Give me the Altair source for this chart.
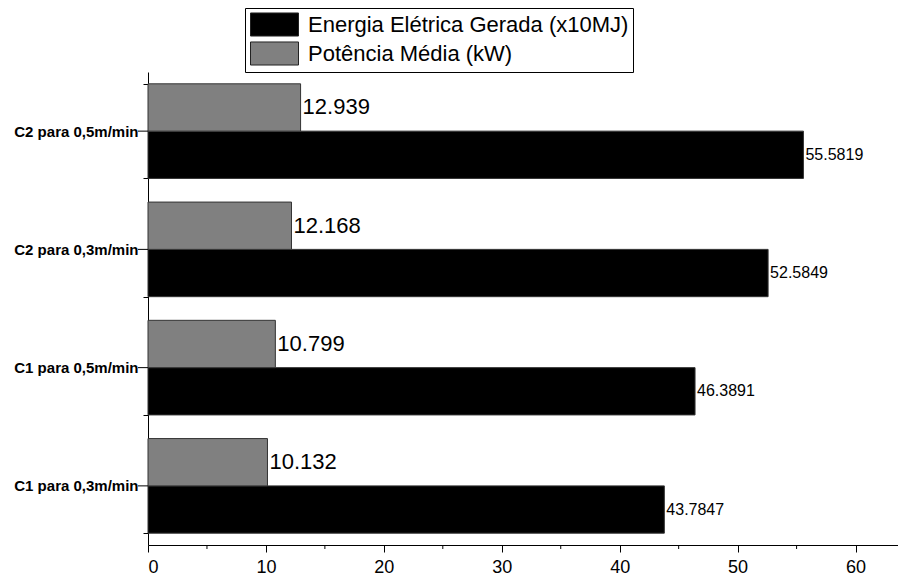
import altair as alt
import pandas as pd

categories = ["C1 para 0,3m/min", "C1 para 0,5m/min", "C2 para 0,3m/min", "C2 para 0,5m/min"]
energia = [43.7847, 46.3891, 52.5849, 55.5819]
potencia = [10.132, 10.799, 12.168, 12.939]
series_names = ["Energia Elétrica Gerada (x10MJ)", "Potência Média (kW)"]
series_colors = ["#000000", "#808080"]
x_ticks = [0, 10, 20, 30, 40, 50, 60]
x_minor_ticks = [5, 15, 25, 35, 45, 55]

rows = []
for c, e, p in zip(categories, energia, potencia):
    rows.append({"cat": c, "serie": series_names[0], "valor": e, "rotulo": f"{e:.4f}"})
    rows.append({"cat": c, "serie": series_names[1], "valor": p, "rotulo": f"{p:.3f}"})
df = pd.DataFrame(rows)
minor_df = pd.DataFrame({"valor": x_minor_ticks})

y_order = categories[::-1]
offset_order = [series_names[1], series_names[0]]

y_enc = alt.Y(
    "cat:N", sort=y_order,
    scale=alt.Scale(paddingInner=0.2, paddingOuter=0.1),
    axis=alt.Axis(title=None, tickBand="extent", tickSize=5, labelPadding=5,
                  labelFont="Liberation Sans", labelFontSize=15, labelFontWeight="bold",
                  labelColor="black", domainColor="black", tickColor="black",
                  labelLimit=300),
)
yoff = alt.YOffset("serie:N", sort=offset_order, scale=alt.Scale(paddingInner=0, paddingOuter=0))
x_enc = alt.X(
    "valor:Q",
    scale=alt.Scale(domain=[0, 63.6], nice=False, zero=True),
    axis=alt.Axis(title=None, values=x_ticks, tickSize=7, labelPadding=6,
                  labelFont="Liberation Sans Narrow, Arial Narrow, Liberation Sans",
                  labelFontSize=18, labelColor="black", domainColor="black",
                  tickColor="black", grid=False),
)

color_enc = alt.Color(
    "serie:N",
    scale=alt.Scale(domain=series_names, range=series_colors),
    legend=alt.Legend(
        title=None, orient="none", legendX=97, legendY=-64, direction="vertical",
        symbolType="M-2,-0.96H2V0.96H-2Z", symbolSize=576, symbolOffset=13,
        symbolStrokeColor="#222222", symbolStrokeWidth=1, symbolOpacity=1,
        labelFont="Liberation Sans", labelFontSize=22, labelColor="black",
        labelLimit=600, labelOffset=21, strokeColor="black", fillColor="white",
        padding=4, rowPadding=0, offset=0,
    ),
)

bars = alt.Chart(df).mark_bar(stroke="#333333", strokeWidth=1).encode(
    y=y_enc, yOffset=yoff, x=x_enc, color=color_enc
)

text_e = alt.Chart(df).transform_filter(
    alt.datum.serie == series_names[0]
).mark_text(align="left", baseline="middle", dx=2, font="Liberation Sans",
            fontSize=16, color="black").encode(
    y=y_enc, yOffset=yoff, x=x_enc, text="rotulo:N"
)

text_p = alt.Chart(df).transform_filter(
    alt.datum.serie == series_names[1]
).mark_text(align="left", baseline="middle", dx=2, font="Liberation Sans",
            fontSize=22, color="black").encode(
    y=y_enc, yOffset=yoff, x=x_enc, text="rotulo:N"
)

center_ticks = alt.Chart(df).transform_filter(
    alt.datum.serie == series_names[0]
).mark_rule(color="black", strokeWidth=1).encode(
    y=y_enc, x=alt.value(-10), x2=alt.value(0)
)

minor_ticks = alt.Chart(minor_df).mark_rule(color="black", strokeWidth=1).encode(
    x=x_enc, y=alt.value(473), y2=alt.value(477)
)

chart = alt.layer(bars, text_e, text_p, center_ticks, minor_ticks).properties(
    width=750, height=473,
    padding={"left": 140, "top": 64, "right": 0, "bottom": 30},
    autosize="none",
).configure_view(stroke=None).configure_axis(domainWidth=1, tickWidth=1)

chart.save("out.html", embed_options={"renderer": "svg", "actions": False})
